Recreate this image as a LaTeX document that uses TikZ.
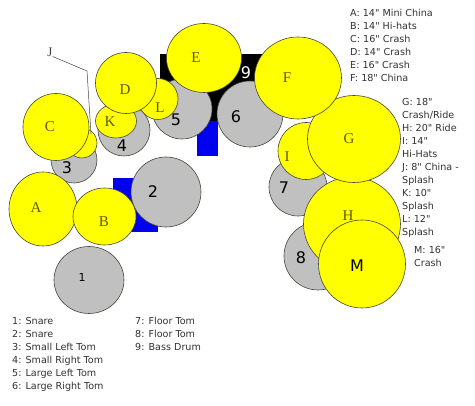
\documentclass[tikz,border=0pt]{standalone}
\usepackage{fontspec}
\setmainfont{Liberation Serif}
\newfontfamily\legfont{DejaVu Sans}
\usetikzlibrary{shapes.geometric}
\definecolor{cymyel}{RGB}{255,255,0}
\definecolor{drmgray}{RGB}{192,192,192}
\definecolor{outl}{RGB}{70,70,60}
\definecolor{olivelab}{RGB}{95,90,0}
\definecolor{legtext}{RGB}{50,50,50}
\definecolor{padblue}{RGB}{0,0,240}
\begin{document}
\begin{tikzpicture}[x=1pt,y=-1pt,
  cym/.style={ellipse,draw=outl,fill=cymyel,inner sep=0pt,line width=0.6pt},
  drm/.style={ellipse,draw=outl,fill=drmgray,inner sep=0pt,line width=0.6pt},
  letlab/.style={font=\fontsize{15}{15}\selectfont,text=olivelab,inner sep=0pt},
  numlab/.style={font=\legfont\fontsize{16}{16}\selectfont,text=black,inner sep=0pt},
  leg/.style={font=\legfont\fontsize{9.6}{12}\selectfont,text=legtext,anchor=base west,inner sep=0pt}]
\useasboundingbox[fill=white] (0,0) rectangle (475,406);

% bass drum and pedals
\fill[black] (160,54) rectangle (265,121);
\fill[padblue] (197,121) rectangle (218,156);
\fill[padblue] (113,178) rectangle (158,232);

% left cluster
\node[drm,minimum width=46,minimum height=46] (d3) at (74,160) {};
\node[cym,minimum width=30,minimum height=30] (cJ) at (82,143) {};
\node[cym,minimum width=66,minimum height=67] (cC) at (56,127) {};
\node[drm,minimum width=60,minimum height=60] (d5) at (182,109) {};
\node[cym,minimum width=40,minimum height=41] (cL) at (158,99) {};
\node[drm,minimum width=52,minimum height=52] (d4) at (124,130) {};
\node[cym,minimum width=41,minimum height=34] (cK) at (116,121) {};
\node[cym,minimum width=61,minimum height=61] (cD) at (126,83) {};
\node[cym,minimum width=75,minimum height=69] (cE) at (204,58) {};

% right cluster
\node[drm,minimum width=66,minimum height=66] (d6) at (250,114) {};
\node[drm,minimum width=58,minimum height=58] (d7) at (298,187) {};
\node[cym,minimum width=56,minimum height=57] (cI) at (306,151) {};
\node[drm,minimum width=68,minimum height=68] (d8) at (318,256) {};
\node[cym,minimum width=97,minimum height=94] (cH) at (352,224) {};
\node[cym,minimum width=93,minimum height=87] (cG) at (354,139) {};
\node[cym,minimum width=87,minimum height=82] (cF) at (298,78) {};
\node[cym,minimum width=87,minimum height=88] (cM) at (362,264) {};

% front
\node[drm,minimum width=70,minimum height=70] (d2) at (166,192) {};
\node[cym,minimum width=68,minimum height=74] (cA) at (43,209) {};
\node[cym,minimum width=63,minimum height=57] (cB) at (104.5,216.5) {};
\node[drm,minimum width=70,minimum height=67] (d1) at (89,280) {};

% labels
\node[letlab] (lA) at (36,208) {A};
\node[letlab] (lB) at (104,222) {B};
\node[letlab] (lC) at (50,127) {C};
\node[letlab] (lD) at (125,90) {D};
\node[letlab] (lE) at (196,58) {E};
\node[letlab] (lF) at (287,78) {F};
\node[letlab] (lG) at (349,139) {G};
\node[letlab] (lH) at (348,216) {H};
\node[letlab] (lI) at (287,157) {I};
\node[letlab] (lK) at (110,122) {K};
\node[letlab] (lL) at (160,108) {L};
\node[numlab] (lM) at (357,266) {M};

\node[numlab,font=\legfont\fontsize{11}{11}\selectfont] (n1) at (82,277) {1};
\node[numlab] (n2) at (153,192) {2};
\node[numlab] (n3) at (67,168) {3};
\node[numlab] (n4) at (122,146) {4};
\node[numlab] (n5) at (176,120) {5};
\node[numlab] (n6) at (236,117) {6};
\node[numlab] (n7) at (284,188) {7};
\node[numlab] (n8) at (301,258) {8};
\node[numlab,text=white] (n9) at (246,73) {9};

% J leader
\node[letlab,text=black!75,font=\fontsize{13}{13}\selectfont] (lJ) at (50,52) {J};
\coordinate (jbend) at (87,71);
\coordinate (jend) at (91,134);
\draw[outl,line width=0.5pt] (lJ.south east) -- (jbend) -- (jend);

% legends
\node[leg] (t1) at (350,16.6) {A: 14" Mini China};
\node[leg] (t2) at (350,29.6) {B: 14" Hi-hats};
\node[leg] (t3) at (350,42.6) {C: 16" Crash};
\node[leg] (t4) at (350,55.6) {D: 14" Crash};
\node[leg] (t5) at (350,68.6) {E: 16" Crash};
\node[leg] (t6) at (350,81.6) {F: 18" China};

\node[leg] (r1) at (402,105.6) {G: 18"};
\node[leg] (r2) at (402,118.6) {Crash/Ride};
\node[leg] (r3) at (402,131.6) {H: 20" Ride};
\node[leg] (r4) at (402,144.6) {I: 14"};
\node[leg] (r5) at (402,157.6) {Hi-Hats};
\node[leg] (r6) at (402,170.6) {J: 8" China -};
\node[leg] (r7) at (402,183.6) {Splash};
\node[leg] (r8) at (402,196.6) {K: 10"};
\node[leg] (r9) at (402,209.6) {Splash};
\node[leg] (r10) at (402,222.6) {L: 12"};
\node[leg] (r11) at (402,235.6) {Splash};
\node[leg] (r12) at (414,253.1) {M: 16"};
\node[leg] (r13) at (414,266.6) {Crash};

\node[leg] (b1) at (12,324.6) {1: Snare};
\node[leg] (b2) at (12,337.6) {2: Snare};
\node[leg] (b3) at (12,350.6) {3: Small Left Tom};
\node[leg] (b4) at (12,363.6) {4: Small Right Tom};
\node[leg] (b5) at (12,376.6) {5: Large Left Tom};
\node[leg] (b6) at (12,389.6) {6: Large Right Tom};
\node[leg] (b7) at (135,324.6) {7: Floor Tom};
\node[leg] (b8) at (135,337.6) {8: Floor Tom};
\node[leg] (b9) at (135,350.6) {9: Bass Drum};
\end{tikzpicture}
\end{document}
